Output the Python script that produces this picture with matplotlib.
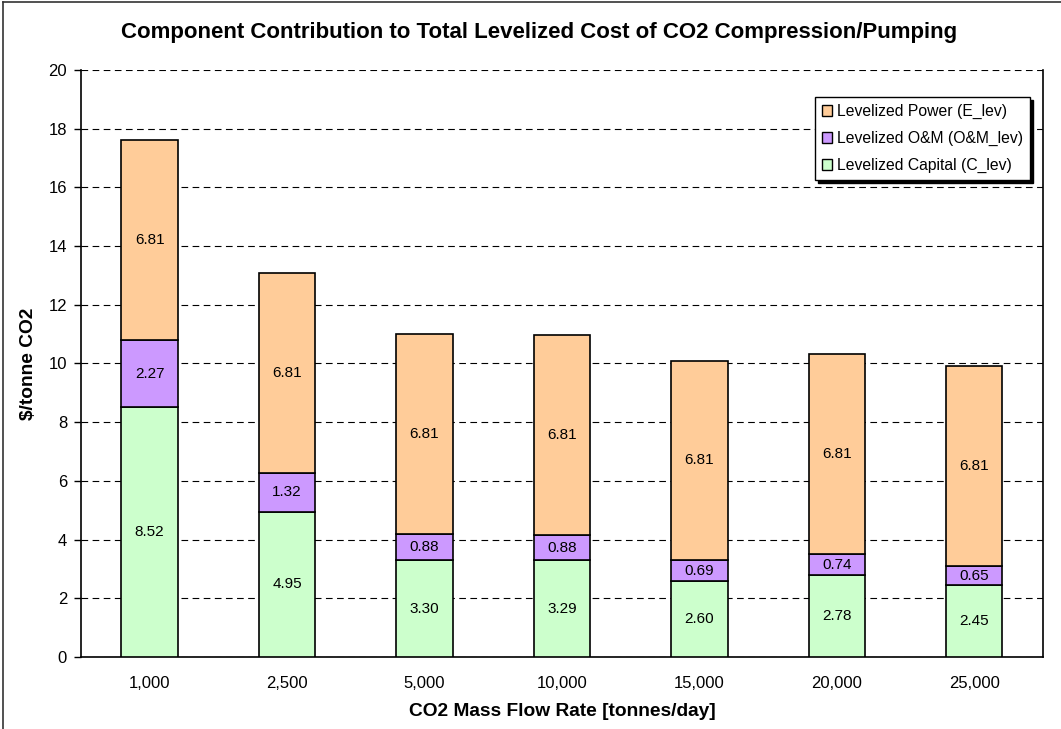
import numpy as np
import matplotlib
matplotlib.use("Agg")
import matplotlib.pyplot as plt
from matplotlib.lines import Line2D
from matplotlib.patches import Patch

plt.rcParams["font.family"] = ["Liberation Sans", "DejaVu Sans"]

flow_rates = ["1,000", "2,500", "5,000", "10,000", "15,000", "20,000", "25,000"]
capital = [8.52, 4.95, 3.30, 3.29, 2.60, 2.78, 2.45]
om = [2.27, 1.32, 0.88, 0.88, 0.69, 0.74, 0.65]
power = [6.81, 6.81, 6.81, 6.81, 6.81, 6.81, 6.81]
y_ticks = [0, 2, 4, 6, 8, 10, 12, 14, 16, 18, 20]

c_power = "#FFCC99"
c_om = "#CC99FF"
c_cap = "#CCFFCC"

fig = plt.figure(figsize=(10.61, 7.29), dpi=100)
ax = fig.add_axes([0.0763, 0.0988, 0.9067, 0.8052])

x = np.arange(len(flow_rates))
w = 0.41
cap = np.array(capital)
o = np.array(om)
p = np.array(power)

ax.bar(x, cap, w, color=c_cap, edgecolor="black", linewidth=1.2, zorder=3)
ax.bar(x, o, w, bottom=cap, color=c_om, edgecolor="black", linewidth=1.2, zorder=3)
ax.bar(x, p, w, bottom=cap + o, color=c_power, edgecolor="black", linewidth=1.2, zorder=3)

for i in range(len(x)):
    ax.text(x[i], cap[i] / 2, f"{cap[i]:.2f}", ha="center", va="center", fontsize=11, zorder=4)
    ax.text(x[i], cap[i] + o[i] / 2, f"{o[i]:.2f}", ha="center", va="center", fontsize=11, zorder=4)
    ax.text(x[i], cap[i] + o[i] + p[i] / 2, f"{p[i]:.2f}", ha="center", va="center", fontsize=11, zorder=4)

ax.set_xlim(-0.5, len(x) - 0.5)
ax.set_ylim(0, 20)
ax.set_yticks(y_ticks)
ax.set_xticks(x)
ax.set_xticklabels(flow_rates)
ax.tick_params(axis="x", length=0, pad=14, labelsize=12)
ax.tick_params(axis="y", direction="out", length=5, width=1, labelsize=12, pad=5)
ax.yaxis.grid(True, color="black", linestyle=(0, (6, 4)), linewidth=0.8, zorder=0)
ax.set_axisbelow(True)
ax.spines["top"].set_visible(False)
for s in ["left", "bottom", "right"]:
    ax.spines[s].set_linewidth(1.2)

ax.set_xlabel("CO2 Mass Flow Rate [tonnes/day]", fontsize=13.8, fontweight="bold", labelpad=8)
ax.set_ylabel("$/tonne CO2", fontsize=13.8, fontweight="bold", labelpad=8)
fig.text(0.508, 0.956, "Component Contribution to Total Levelized Cost of CO2 Compression/Pumping",
         ha="center", va="center", fontsize=16, fontweight="bold")

handles = [
    Patch(facecolor=c_power, edgecolor="black", label="Levelized Power (E_lev)"),
    Patch(facecolor=c_om, edgecolor="black", label="Levelized O&M (O&M_lev)"),
    Patch(facecolor=c_cap, edgecolor="black", label="Levelized Capital (C_lev)"),
]
leg = ax.legend(handles=handles, loc="upper right", bbox_to_anchor=(1030 / 1061, 1 - 97 / 729),
                bbox_transform=fig.transFigure, fontsize=11.3, frameon=True, fancybox=False,
                shadow={"color": "black", "alpha": 1}, edgecolor="black", framealpha=1,
                handlelength=0.65, handleheight=0.65, handletextpad=0.3, labelspacing=0.76,
                borderpad=0.45, borderaxespad=0)
leg.get_frame().set_linewidth(1.0)
leg.set_zorder(5)

# outer chart border (cut off at right and bottom)
fig.add_artist(Line2D([3 / 1061, 3 / 1061], [0, 1 - 2 / 729], color="#333333", linewidth=1.2,
                      transform=fig.transFigure))
fig.add_artist(Line2D([3 / 1061, 1], [1 - 2 / 729, 1 - 2 / 729], color="#333333", linewidth=1.2,
                      transform=fig.transFigure))

fig.savefig("out.png", dpi=100)
